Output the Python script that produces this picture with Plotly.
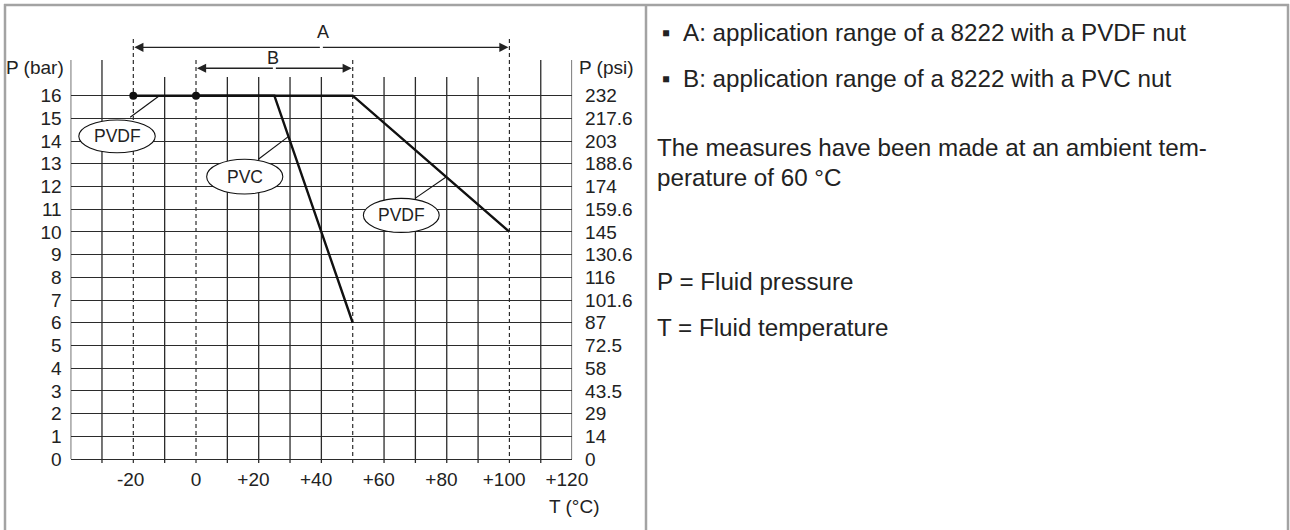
import plotly.graph_objects as go

# ---------------- data ----------------
pvdf_T = [-20, 50, 100]
pvdf_P = [16, 16, 10]
pvc_T = [0, 25, 50]
pvc_P = [16, 16, 6]

range_A = [-20, 100]
range_B = [0, 50]

x_tickvals = [-20, 0, 20, 40, 60, 80, 100, 120]
x_ticktext = ["-20", "0", "+20", "+40", "+60", "+80", "+100", "+120"]
bar_ticks = list(range(0, 17))
psi_ticks = ["0", "14", "29", "43.5", "58", "72.5", "87", "101.6", "116", "130.6",
             "145", "159.6", "174", "188.6", "203", "217.6", "232"]

grid_tall = [-30, 110]
grid_short = [-10, 10, 20, 30, 40, 60, 70, 80, 90]
dashed_tall = [-20, 100]
dashed_short = [0, 50]

W, H = 1290, 530
FONT = "Liberation Sans, Arial, sans-serif"
INK = "#2b2b2b"
TXT = "#222"
FS = 19


def px(xp):
    return xp / W


def py(yp):
    return 1 - yp / H


def pad_label(t):
    # sign characters hang to the left of the tick in the reference
    if t.startswith("+"):
        return t + "\u00a0\u00a0"
    if t.startswith("-"):
        return t + "\u00a0"
    return t


fig = go.Figure()

fig.add_trace(go.Scatter(x=pvdf_T, y=pvdf_P, mode="lines",
                         line=dict(color="#111", width=2.4), showlegend=False, hoverinfo="skip"))
fig.add_trace(go.Scatter(x=pvc_T, y=pvc_P, mode="lines",
                         line=dict(color="#111", width=2.4), showlegend=False, hoverinfo="skip"))
fig.add_trace(go.Scatter(x=[pvdf_T[0], pvc_T[0]], y=[pvdf_P[0], pvc_P[0]], mode="markers",
                         marker=dict(color="#111", size=8), showlegend=False, hoverinfo="skip"))
# invisible trace for right axis
fig.add_trace(go.Scatter(x=[pvdf_T[0]], y=[pvdf_P[0]], yaxis="y2", mode="markers",
                         marker=dict(opacity=0), showlegend=False, hoverinfo="skip"))

shapes = []
y_tall, y_short, y_dash_tall = 17.57, 16.82, 18.59
y_bot = -0.18
for xv in [-40, 120] + grid_tall:
    shapes.append(dict(type="line", xref="x", yref="y", x0=xv, x1=xv,
                       y0=0 if xv in (-40, 120) else y_bot,
                       y1=y_tall, line=dict(color=INK, width=1.3), layer="below"))
for xv in grid_short:
    shapes.append(dict(type="line", xref="x", yref="y", x0=xv, x1=xv, y0=y_bot, y1=y_short,
                       line=dict(color=INK, width=1.3), layer="below"))
for xv in dashed_tall:
    shapes.append(dict(type="line", xref="x", yref="y", x0=xv, x1=xv, y0=y_bot, y1=y_dash_tall,
                       line=dict(color=INK, width=1.2, dash="4px,3px"), layer="below"))
for xv in dashed_short:
    shapes.append(dict(type="line", xref="x", yref="y", x0=xv, x1=xv, y0=y_bot, y1=y_tall,
                       line=dict(color=INK, width=1.2, dash="4px,3px"), layer="below"))

# leader lines
leaders = [((-21.0, 15.05), (-11.7, 16.0)),
           ((19.9, 13.2), (29.45, 14.2)),
           ((69.9, 11.48), (79.8, 12.42))]
for (x0, y0), (x1, y1) in leaders:
    shapes.append(dict(type="line", xref="x", yref="y", x0=x0, y0=y0, x1=x1, y1=y1,
                       line=dict(color="#111", width=1.1)))

# ellipses
ellipses = [(-37.4, -13.0, 13.49, 14.93, "PVDF"),
            (3.4, 27.7, 11.67, 13.2, "PVC"),
            (53.4, 77.6, 9.98, 11.48, "PVDF")]
annotations = []
for x0, x1, y0, y1, t in ellipses:
    shapes.append(dict(type="circle", xref="x", yref="y", x0=x0, x1=x1, y0=y0, y1=y1,
                       line=dict(color="#111", width=1.1), fillcolor="white", layer="above"))
    annotations.append(dict(x=(x0 + x1) / 2, y=(y0 + y1) / 2, xref="x", yref="y", text=t,
                            showarrow=False, font=dict(family=FONT, size=17.5, color=TXT)))

# panel frame
FR = "#a3a3a3"
for x0, y0, x1, y1 in [(4, 5, 1289, 5), (5, 4, 5, 535), (1288, 4, 1288, 535), (646, 4, 646, 535)]:
    shapes.append(dict(type="line", xref="paper", yref="paper", x0=px(x0), x1=px(x1),
                       y0=py(y0), y1=py(y1), line=dict(color=FR, width=2.5)))

# range arrows
yA, yB = 18.13, 17.21
for (a0, a1), yv in [(range_A, yA), (range_B, yB)]:
    mid = (a0 + a1) / 2
    for end in (a0, a1):
        annotations.append(dict(x=end, y=yv, ax=mid, ay=yv, xref="x", yref="y", axref="x", ayref="y",
                                text="", showarrow=True, arrowhead=2, arrowsize=1.3,
                                arrowwidth=1.4, arrowcolor="#222", standoff=1))
annotations.append(dict(x=40.5, y=18.8, xref="x", yref="y", text="A", showarrow=False,
                        font=dict(family=FONT, size=18, color=TXT)))
annotations.append(dict(x=24.5, y=17.66, xref="x", yref="y", text="B", showarrow=False,
                        font=dict(family=FONT, size=18, color=TXT)))

# axis titles
annotations.append(dict(x=px(4), y=py(68), xref="paper", yref="paper", text="P (bar)",
                        xanchor="left", yanchor="middle", showarrow=False,
                        font=dict(family=FONT, size=FS, color=TXT)))
annotations.append(dict(x=px(577), y=py(68), xref="paper", yref="paper", text="P (psi)",
                        xanchor="left", yanchor="middle", showarrow=False,
                        font=dict(family=FONT, size=FS, color=TXT)))
annotations.append(dict(x=px(574), y=py(506), xref="paper", yref="paper", text="T (°C)",
                        xanchor="center", yanchor="middle", showarrow=False,
                        font=dict(family=FONT, size=FS, color=TXT)))

# right panel text
RT = 24.2
right_lines = [
    (660, 33, "▪"),
    (681, 33, "A: application range of a 8222 with a PVDF nut"),
    (660, 79, "▪"),
    (681, 79, "B: application range of a 8222 with a PVC nut"),
    (655, 148, "The measures have been made at an ambient tem-"),
    (655, 177, "perature of 60 °C"),
    (655, 281, "P = Fluid pressure"),
    (655, 327, "T = Fluid temperature"),
]
for xp, yp, t in right_lines:
    annotations.append(dict(x=px(xp), y=py(yp), xref="paper", yref="paper", text=t,
                            xanchor="left", yanchor="middle", showarrow=False,
                            font=dict(family=FONT, size=RT, color=TXT)))

x0p, x1p = 70.64, 572.1           # px of T=-40 and T=120
yr = [-0.3, 19.2]
ybot_px = 459 - yr[0] * 22.706
ytop_px = 459 - yr[1] * 22.706

fig.update_layout(
    width=W, height=H, autosize=False, margin=dict(l=0, r=0, t=0, b=0, pad=0, autoexpand=False),
    paper_bgcolor="white", plot_bgcolor="white",
    xaxis=dict(domain=[px(x0p), px(x1p)], range=[-40, 120], tickvals=x_tickvals,
               ticktext=[pad_label(t) for t in x_ticktext], automargin=False,
               showgrid=False, zeroline=False, showline=False, ticks="",
               tickfont=dict(family=FONT, size=FS, color=TXT),
               ticklabelstandoff=0, fixedrange=True),
    yaxis=dict(domain=[py(ybot_px), py(ytop_px)], range=yr, tickvals=bar_ticks, automargin=False,
               ticktext=[str(v) for v in bar_ticks], showgrid=True, gridcolor=INK, gridwidth=1.3,
               zeroline=False, showline=False, ticks="", ticklabelstandoff=8,
               tickfont=dict(family=FONT, size=FS, color=TXT), fixedrange=True),
    yaxis2=dict(overlaying="y", side="right", anchor="x", range=yr, tickvals=bar_ticks,
                automargin=False,
                ticktext=psi_ticks, showgrid=False, zeroline=False, showline=False, ticks="",
                ticklabelstandoff=12, tickfont=dict(family=FONT, size=FS, color=TXT),
                fixedrange=True),
    shapes=shapes, annotations=annotations, showlegend=False,
)

fig.write_html(
    "out.html",
    config={"responsive": False, "displayModeBar": False},
    post_script=(
        "document.documentElement.style.margin='0px';"
        "document.documentElement.style.overflow='hidden';"
        "document.body.style.margin='0px';"
        "document.body.style.overflow='hidden';"
    ),
)
